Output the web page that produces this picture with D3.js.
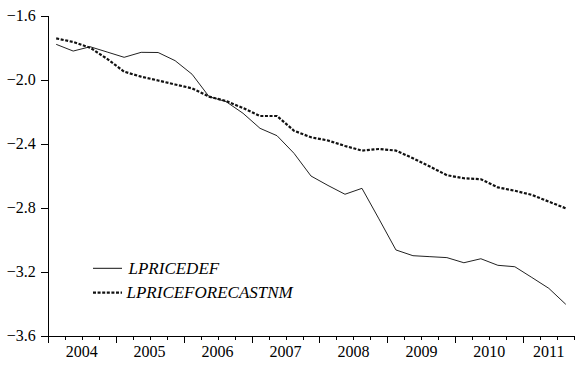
<!DOCTYPE html>
<html>
<head>
<meta charset="utf-8">
<script src="https://cdn.jsdelivr.net/npm/d3@7"></script>
<style>
  body { margin: 0; background: #fff; }
  svg text { font-family: "Liberation Serif", "Times New Roman", serif; fill: #000; }
</style>
</head>
<body>
<svg id="chart" width="581" height="366"></svg>
<script>
// quarterly, 2004Q1 .. 2011Q3
const years = ["2004", "2005", "2006", "2007", "2008", "2009", "2010", "2011"];
const lpricedef = [
  -1.779, -1.821, -1.794, -1.827, -1.860, -1.829, -1.830, -1.881,
  -1.966, -2.106, -2.137, -2.210, -2.304, -2.350, -2.460, -2.602,
  -2.661, -2.716, -2.679, -2.870, -3.064, -3.100, -3.106, -3.112,
  -3.144, -3.119, -3.160, -3.169, -3.236, -3.304, -3.404
];
const lpriceforecastnm = [
  -1.742, -1.764, -1.800, -1.870, -1.950, -1.981, -2.005, -2.030,
  -2.054, -2.106, -2.133, -2.177, -2.227, -2.227, -2.319, -2.360,
  -2.380, -2.414, -2.443, -2.433, -2.443, -2.491, -2.543, -2.597,
  -2.616, -2.622, -2.673, -2.694, -2.720, -2.762, -2.804
];
const yTicks = [-1.6, -2.0, -2.4, -2.8, -3.2, -3.6];
const seriesNames = ["LPRICEDEF", "LPRICEFORECASTNM"];

const svg = d3.select("#chart");
const nQ = lpricedef.length;

const x = d3.scaleLinear().domain([0, nQ]).range([47.7, 574.3]);
const y = d3.scaleLinear().domain([-3.6, -1.6]).range([335.7, 15.7]);

// y axis
const yAxis = svg.append("g")
  .attr("transform", `translate(${x(0)},0)`)
  .call(d3.axisLeft(y).tickValues(yTicks).tickSize(7).tickSizeOuter(0).tickPadding(5)
    .tickFormat(d3.format(".1f")));
yAxis.selectAll("text").style("font-size", "16px");

// x axis, a tick per quarter, longer at year boundaries
const xAxis = svg.append("g")
  .attr("transform", `translate(0,${y(-3.6)})`)
  .call(d3.axisBottom(x).tickValues(d3.range(0, nQ + 1)).tickSize(4).tickSizeOuter(0)
    .tickFormat(""));
xAxis.selectAll(".tick line").attr("y2", d => d % 4 === 0 ? 7 : 4);

svg.selectAll("path.domain, .tick line").attr("stroke", "#000").attr("shape-rendering", "crispEdges");

// year labels centred on the visible part of each year
svg.append("g").selectAll("text")
  .data(years)
  .join("text")
  .attr("x", (d, i) => x((i * 4 + Math.min(i * 4 + 4, nQ)) / 2))
  .attr("y", 357)
  .attr("text-anchor", "middle")
  .style("font-size", "16px")
  .text(d => d);

const line = d3.line()
  .x((d, i) => x(i + 0.5))
  .y(d => y(d));

svg.append("path")
  .datum(lpricedef)
  .attr("fill", "none")
  .attr("stroke", "#222")
  .attr("stroke-width", 1)
  .attr("d", line);

svg.append("path")
  .datum(lpriceforecastnm)
  .attr("fill", "none")
  .attr("stroke", "#111")
  .attr("stroke-width", 2.2)
  .attr("stroke-dasharray", "3,1.6")
  .attr("d", line);

// legend
const legend = svg.append("g");
const rows = [
  { name: seriesNames[0], y: 268.3, w: 1, dash: null, tx: 128.5 },
  { name: seriesNames[1], y: 292.7, w: 2.2, dash: "3,1.6", tx: 126.5 }
];
rows.forEach(r => {
  legend.append("line")
    .attr("x1", 93).attr("x2", 122)
    .attr("y1", r.y).attr("y2", r.y)
    .attr("stroke", "#111")
    .attr("stroke-width", r.w)
    .attr("stroke-dasharray", r.dash);
  legend.append("text")
    .attr("x", r.tx)
    .attr("y", r.y + 5.5)
    .style("font-size", "17px")
    .style("font-style", "italic")
    .text(r.name);
});
</script>
</body>
</html>
